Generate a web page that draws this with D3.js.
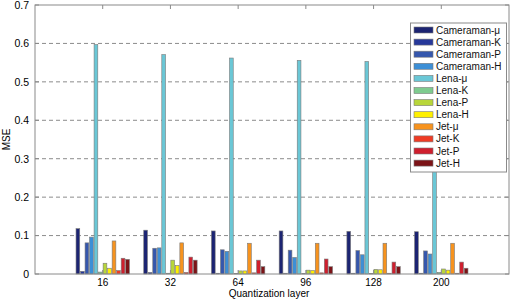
<!DOCTYPE html>
<html><head><meta charset="utf-8">
<script src="https://cdn.jsdelivr.net/npm/d3@7"></script>
<style>body{margin:0;background:#fff;} svg{display:block;font-family:"Liberation Sans",Arial,sans-serif;}</style>
</head><body>
<script>
const categories = ["16","32","64","96","128","200"];
const seriesNames = ["Cameraman-μ","Cameraman-K","Cameraman-P","Cameraman-H","Lena-μ","Lena-K","Lena-P","Lena-H","Jet-μ","Jet-K","Jet-P","Jet-H"];
const seriesColors = ["#1c2472","#26389a","#3557ad","#3d8fd6","#6ac7d6","#7ecb8f","#b8d63a","#fff000","#f7931e","#ef3b24","#cf1f2e","#7c1317"];
const camMu = [0.118,0.114,0.112,0.112,0.111,0.110];
const camK  = [0.007,0.004,0.002,0.002,0.002,0.002];
const camP  = [0.081,0.067,0.063,0.062,0.061,0.060];
const camH  = [0.096,0.068,0.059,0.043,0.050,0.052];
const lenaMu= [0.597,0.571,0.562,0.556,0.553,0.550];
const lenaK = [0.005,0.002,0.001,0.001,0.001,0.004];
const lenaP = [0.028,0.036,0.008,0.010,0.012,0.013];
const lenaH = [0.015,0.022,0.008,0.009,0.011,0.010];
const jetMu = [0.086,0.081,0.080,0.080,0.080,0.080];
const jetK  = [0.009,0.004,0.003,0.003,0.002,0.002];
const jetP  = [0.041,0.044,0.036,0.039,0.031,0.031];
const jetH  = [0.038,0.036,0.019,0.019,0.019,0.015];
const yTicks = [0,0.1,0.2,0.3,0.4,0.5,0.6,0.7];
const yTickLabels = ["0","0.1","0.2","0.3","0.4","0.5","0.6","0.7"];
const xTitle = "Quantization layer";
const yTitle = "MSE";

const seriesValues = [camMu,camK,camP,camH,lenaMu,lenaK,lenaP,lenaH,jetMu,jetK,jetP,jetH];

const W=510,H=300;
const L=35,R=509,T=5,B=274;
const svg=d3.select("body").append("svg").attr("width",W).attr("height",H);

const x0=d3.scaleBand().domain(categories).range([L,R]).paddingInner(0.2).paddingOuter(0.6);
const x1=d3.scaleBand().domain(seriesNames).range([0,x0.bandwidth()]);
const y=d3.scaleLinear().domain([0,0.7]).range([B,T]);

// grid
svg.append("g").selectAll("line").data(yTicks.filter(v=>v>0&&v<0.7)).join("line")
  .attr("x1",L).attr("x2",R).attr("y1",d=>y(d)).attr("y2",d=>y(d))
  .attr("stroke","#8c8c8c").attr("stroke-width",1).attr("stroke-dasharray","4,3");

// bars
const g=svg.append("g");
categories.forEach((c,ci)=>{
  seriesNames.forEach((s,si)=>{
    const v=seriesValues[si][ci];
    g.append("rect")
      .attr("x",x0(c)+x1(s)+0.4)
      .attr("width",x1.bandwidth()-0.8)
      .attr("y",y(v))
      .attr("height",B-y(v))
      .attr("fill",seriesColors[si])
      .attr("stroke","#7a7a7a").attr("stroke-width",0.6);
  });
});

// axes box
svg.append("rect").attr("x",L).attr("y",T).attr("width",R-L).attr("height",B-T)
  .attr("fill","none").attr("stroke","#8a8a8a").attr("stroke-width",1);

// y axis
const yAxis=d3.axisLeft(y).tickValues(yTicks).tickFormat((d,i)=>yTickLabels[i]).tickSize(0).tickPadding(6);
const ya=svg.append("g").attr("transform",`translate(${L},0)`).call(yAxis);
ya.select(".domain").remove();
ya.selectAll("text").attr("font-size",10.5).attr("fill","#000").attr("font-family","Liberation Sans, Arial, sans-serif");
svg.append("g").selectAll("line").data(yTicks).join("line")
  .attr("x1",L).attr("x2",L+4).attr("y1",d=>y(d)).attr("y2",d=>y(d)).attr("stroke","#8a8a8a");
svg.append("g").selectAll("line").data(yTicks).join("line")
  .attr("x1",R-4).attr("x2",R).attr("y1",d=>y(d)).attr("y2",d=>y(d)).attr("stroke","#8a8a8a");

// x axis
const xAxis=d3.axisBottom(x0).tickSize(0).tickPadding(5);
const xa=svg.append("g").attr("transform",`translate(0,${B})`).call(xAxis);
xa.select(".domain").remove();
xa.selectAll("text").attr("font-size",10).attr("fill","#000").attr("font-family","Liberation Sans, Arial, sans-serif");
svg.append("g").selectAll("line").data(categories).join("line")
  .attr("x1",d=>x0(d)+x0.bandwidth()/2).attr("x2",d=>x0(d)+x0.bandwidth()/2)
  .attr("y1",T).attr("y2",T+4).attr("stroke","#8a8a8a");
svg.append("g").selectAll("line").data(categories).join("line")
  .attr("x1",d=>x0(d)+x0.bandwidth()/2).attr("x2",d=>x0(d)+x0.bandwidth()/2)
  .attr("y1",B-4).attr("y2",B).attr("stroke","#8a8a8a");

// titles
svg.append("text").attr("x",(L+R)/2-3).attr("y",297).attr("text-anchor","middle")
  .attr("font-size",10).attr("fill","#000").text(xTitle);
svg.append("text").attr("transform",`translate(10,${(T+B)/2}) rotate(-90)`).attr("text-anchor","middle")
  .attr("font-size",10).attr("fill","#000").text(yTitle);

// legend
const lx=410.5,ly=23,lw=96,lh=149;
svg.append("rect").attr("x",lx).attr("y",ly).attr("width",lw).attr("height",lh)
  .attr("fill","#fff").attr("stroke","#8a8a8a").attr("stroke-width",1);
const lg=svg.append("g");
seriesNames.forEach((s,i)=>{
  const cy=30+i*12.1;
  lg.append("rect").attr("x",414).attr("y",cy-3).attr("width",19).attr("height",6)
    .attr("fill",seriesColors[i]).attr("stroke","#7a7a7a").attr("stroke-width",0.6);
  lg.append("text").attr("x",436).attr("y",cy+3.5).attr("font-size",10).attr("fill","#111").text(s);
});
</script>
</body></html>
